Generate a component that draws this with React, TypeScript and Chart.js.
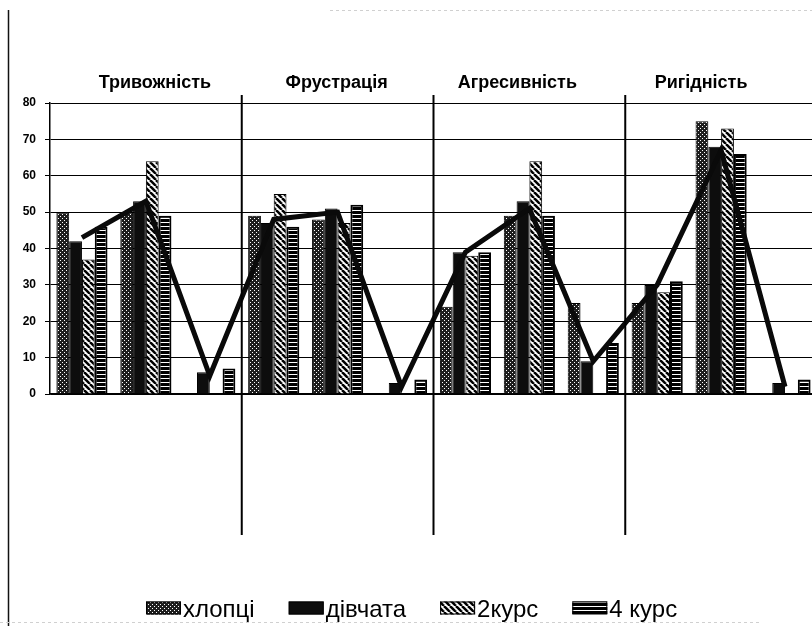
import React, { useEffect, useRef } from "react";
import { Chart, registerables } from "chart.js";

Chart.register(...registerables);

// ---- data ----
const sections = ["Тривожність", "Фрустрація", "Агресивність", "Ригідність"];
const levels = ["високий", "середній", "низький"];
const categories = sections.flatMap((s) => levels.map((l) => `${s}: ${l}`));
const seriesNames = ["хлопці", "дівчата", "2курс", "4 курс"];
const boysValues = [50, 50, 0, 49, 48, 0, 24, 49, 25, 25, 75, 0];
const girlsValues = [42, 53, 6, 47, 51, 3, 39, 53, 9, 30, 68, 3];
const course2Values = [37, 64, 0, 55, 47, 0, 38, 64, 0, 28, 73, 0];
const course4Values = [46, 49, 7, 46, 52, 4, 39, 49, 14, 31, 66, 4];
const lineValues = [43, 53, 5, 48, 50, 2, 39, 51, 9, 30, 67, 2];
const yMin = 0;
const yMax = 80;
const yStep = 10;

// ---- styling (not data) ----
const FONT = 'Arial, "Liberation Sans", sans-serif';
const titleShift = [9, -1, -12, -20];

function makePattern(kind: string): CanvasPattern | string {
  const c = document.createElement("canvas");
  const g = c.getContext("2d");
  if (!g) return "#111";
  if (kind === "boys") {
    c.width = 4;
    c.height = 4;
    g.fillStyle = "#1e1e1e";
    g.fillRect(0, 0, 4, 4);
    g.fillStyle = "#ffffff";
    g.fillRect(0, 0, 1, 1);
    g.fillRect(2, 2, 1, 1);
  } else if (kind === "c2") {
    c.width = 6;
    c.height = 6;
    g.fillStyle = "#ffffff";
    g.fillRect(0, 0, 6, 6);
    g.strokeStyle = "#000000";
    g.lineWidth = 2.5;
    for (const x0 of [-6, 0, 6]) {
      g.beginPath();
      g.moveTo(x0, 0);
      g.lineTo(x0 + 6, 6);
      g.stroke();
    }
  } else if (kind === "c4") {
    c.width = 4;
    c.height = 4;
    g.fillStyle = "#000000";
    g.fillRect(0, 0, 4, 4);
    g.fillStyle = "#ffffff";
    g.fillRect(0, 2, 4, 1);
  } else {
    return "#0d0d0d";
  }
  return g.createPattern(c, "repeat") || "#111";
}

const decorPlugin = {
  id: "decor",
  afterDraw(chart: any) {
    const ctx = chart.ctx as CanvasRenderingContext2D;
    const xs = chart.scales.x;
    ctx.save();
    // scan frame
    ctx.strokeStyle = "#111";
    ctx.lineWidth = 1.5;
    ctx.beginPath();
    ctx.moveTo(8.5, 10);
    ctx.lineTo(8.5, 626);
    ctx.stroke();
    ctx.strokeStyle = "#d0d0d0";
    ctx.lineWidth = 1;
    ctx.setLineDash([3, 3]);
    ctx.beginPath();
    ctx.moveTo(330, 10.5);
    ctx.lineTo(812, 10.5);
    ctx.stroke();
    ctx.beginPath();
    ctx.moveTo(0, 622.5);
    ctx.lineTo(760, 622.5);
    ctx.stroke();
    ctx.setLineDash([]);

    // section separators
    ctx.strokeStyle = "#000";
    ctx.lineWidth = 2;
    for (let s = 1; s < sections.length; s++) {
      const x =
        (xs.getPixelForValue(s * 3 - 1) + xs.getPixelForValue(s * 3)) / 2;
      ctx.beginPath();
      ctx.moveTo(x, 95);
      ctx.lineTo(x, 535);
      ctx.stroke();
    }

    // section titles
    ctx.fillStyle = "#000";
    ctx.font = `bold 18px ${FONT}`;
    ctx.textAlign = "center";
    ctx.textBaseline = "alphabetic";
    sections.forEach((name, s) => {
      const x =
        (xs.getPixelForValue(s * 3) + xs.getPixelForValue(s * 3 + 2)) / 2 +
        titleShift[s];
      ctx.fillText(name, x, 88);
    });

    // legend
    ctx.font = `24px ${FONT}`;
    ctx.textAlign = "left";
    let x = 146;
    const yC = 608;
    const boxW = 35;
    const boxH = 13;
    seriesNames.forEach((name, i) => {
      const ds = chart.data.datasets[i + 1];
      ctx.fillStyle = ds.backgroundColor;
      ctx.fillRect(x, yC - boxH / 2, boxW, boxH);
      ctx.strokeStyle = "#000";
      ctx.lineWidth = 1;
      ctx.strokeRect(x + 0.5, yC - boxH / 2 + 0.5, boxW - 1, boxH - 1);
      ctx.fillStyle = "#000";
      ctx.fillText(name, x + boxW + 2, yC + 9);
      x += boxW + 2 + ctx.measureText(name).width + 34;
    });
    ctx.restore();
  },
};

export default function App() {
  const ref = useRef<HTMLCanvasElement | null>(null);

  useEffect(() => {
    if (!ref.current) return;
    const patterns = [
      makePattern("boys"),
      makePattern("girls"),
      makePattern("c2"),
      makePattern("c4"),
    ];
    const values = [boysValues, girlsValues, course2Values, course4Values];
    const barSets = seriesNames.map((name, i) => ({
      type: "bar" as const,
      label: name,
      data: values[i],
      backgroundColor: patterns[i],
      borderColor: "#000",
      borderWidth: i === 3 ? 2 : 1,
      categoryPercentage: 0.8,
      barPercentage: 1.0,
      order: 1,
    }));
    const chart = new Chart(ref.current, {
      type: "bar",
      data: {
        labels: categories,
        datasets: [
          {
            type: "line" as const,
            label: "лінія",
            data: lineValues,
            borderColor: "#0a0a0a",
            borderWidth: 5,
            pointRadius: 0,
            tension: 0,
            fill: false,
            order: 0,
          } as any,
          ...barSets,
        ],
      },
      options: {
        animation: false,
        responsive: false,
        maintainAspectRatio: false,
        layout: { padding: { top: 103, left: 0, right: 0, bottom: 0 } },
        plugins: {
          legend: { display: false },
          tooltip: { enabled: false },
          title: { display: false },
        },
        scales: {
          x: {
            grid: { display: false, drawTicks: false },
            border: { display: true, color: "#000", width: 1.5 },
            ticks: { display: false },
            afterFit: (s: any) => {
              s.height = 232;
            },
          },
          y: {
            min: yMin,
            max: yMax,
            ticks: {
              stepSize: yStep,
              color: "#000",
              padding: 9,
              font: { family: FONT, size: 12, weight: "bold" },
            },
            grid: { color: "#000", lineWidth: 1, tickLength: 5 },
            border: { color: "#000", width: 1.5 },
            afterFit: (s: any) => {
              s.width = 50;
            },
          },
        },
      } as any,
      plugins: [decorPlugin],
    });
    return () => chart.destroy();
  }, []);

  return (
    <div
      style={{
        position: "fixed",
        left: 0,
        top: 0,
        width: 812,
        height: 626,
        overflow: "hidden",
        background: "#fff",
      }}
    >
      <canvas ref={ref} width={817} height={626} style={{ display: "block" }} />
    </div>
  );
}
